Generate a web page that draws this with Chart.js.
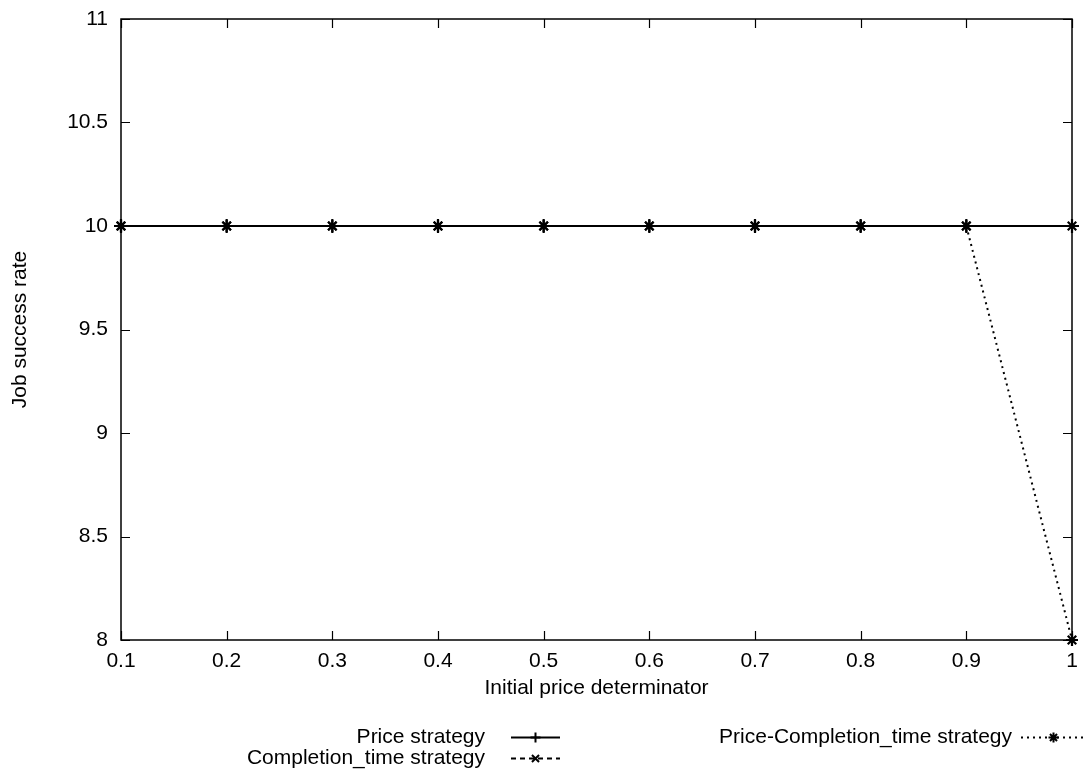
<!DOCTYPE html>
<html>
<head>
<meta charset="utf-8">
<script src="https://cdn.jsdelivr.net/npm/chart.js@4"></script>
<style>
  body { margin: 0; background: #fff; }
  canvas { display: block; }
</style>
</head>
<body>
<canvas id="chart" width="1088" height="769"></canvas>
<script>
// values
const xValues = [0.1, 0.2, 0.3, 0.4, 0.5, 0.6, 0.7, 0.8, 0.9, 1];
const priceStrategy = [10, 10, 10, 10, 10, 10, 10, 10, 10, 10];
const completionStrategy = [10, 10, 10, 10, 10, 10, 10, 10, 10, 10];
const priceCompletionStrategy = [10, 10, 10, 10, 10, 10, 10, 10, 10, 8];
const xTicks = [0.1, 0.2, 0.3, 0.4, 0.5, 0.6, 0.7, 0.8, 0.9, 1];
const yTicks = [8, 8.5, 9, 9.5, 10, 10.5, 11];

const FONT = '"Liberation Sans", Arial, sans-serif';
const FSIZE = 21;

function toPoints(ys) {
  return xValues.map((x, i) => ({ x: x, y: ys[i] }));
}

// gnuplot style frame, inward ticks, axis titles and legend
const gnuplotLook = {
  id: 'gnuplotLook',
  afterDraw(chart) {
    const ctx = chart.ctx;
    const a = chart.chartArea;
    const xs = chart.scales.x, ys = chart.scales.y;
    ctx.save();
    ctx.strokeStyle = '#000';
    ctx.lineWidth = 1.5;
    ctx.strokeRect(a.left, a.top, a.right - a.left, a.bottom - a.top);
    ctx.lineWidth = 1.2;
    ctx.beginPath();
    xTicks.forEach(v => {
      const px = Math.round(xs.getPixelForValue(v)) + 0.5;
      ctx.moveTo(px, a.bottom); ctx.lineTo(px, a.bottom - 9);
      ctx.moveTo(px, a.top); ctx.lineTo(px, a.top + 9);
    });
    yTicks.forEach(v => {
      const py = Math.round(ys.getPixelForValue(v)) + 0.5;
      ctx.moveTo(a.left, py); ctx.lineTo(a.left + 9, py);
      ctx.moveTo(a.right, py); ctx.lineTo(a.right - 9, py);
    });
    ctx.stroke();

    // axis titles
    ctx.fillStyle = '#000';
    ctx.font = FSIZE + 'px ' + FONT;
    ctx.textAlign = 'center';
    ctx.textBaseline = 'middle';
    ctx.fillText('Initial price determinator', (a.left + a.right) / 2, 688);
    ctx.save();
    ctx.translate(20, (a.top + a.bottom) / 2);
    ctx.rotate(-Math.PI / 2);
    ctx.fillText('Job success rate', 0, 0);
    ctx.restore();

    // legend
    const items = [
      { ds: 0, tx: 485, x0: 511, x1: 560, y: 737 },
      { ds: 1, tx: 485, x0: 511, x1: 560, y: 758 },
      { ds: 2, tx: 1012, x0: 1021, x1: 1086, y: 737 }
    ];
    items.forEach(it => {
      const d = chart.data.datasets[it.ds];
      ctx.textAlign = 'right';
      ctx.fillStyle = '#000';
      ctx.fillText(d.label, it.tx, it.y);
      ctx.beginPath();
      ctx.setLineDash(d.borderDash || []);
      ctx.lineWidth = d.borderWidth;
      ctx.moveTo(it.x0, it.y + 0.5);
      ctx.lineTo(it.x1, it.y + 0.5);
      ctx.stroke();
      ctx.setLineDash([]);
      Chart.helpers.drawPoint(ctx, {
        pointStyle: d.pointStyle, radius: 5, borderWidth: 2
      }, (it.x0 + it.x1) / 2, it.y + 0.5);
    });
    ctx.restore();
  }
};

const ctx = document.getElementById('chart').getContext('2d');
new Chart(ctx, {
  type: 'line',
  data: {
    datasets: [
      {
        label: 'Price strategy',
        data: toPoints(priceStrategy),
        borderColor: '#000', backgroundColor: '#000',
        borderWidth: 2, pointStyle: 'cross', pointRadius: 7, pointBorderWidth: 2.2
      },
      {
        label: 'Completion_time strategy',
        data: toPoints(completionStrategy),
        borderColor: '#000', backgroundColor: '#000',
        borderWidth: 2, borderDash: [5, 4],
        pointStyle: 'crossRot', pointRadius: 6, pointBorderWidth: 2.2
      },
      {
        label: 'Price-Completion_time strategy',
        data: toPoints(priceCompletionStrategy),
        borderColor: '#000', backgroundColor: '#000',
        borderWidth: 2, borderDash: [2, 4],
        pointStyle: 'star', pointRadius: 6, pointBorderWidth: 2.2
      }
    ]
  },
  options: {
    responsive: false,
    animation: false,
    clip: false,
    layout: { padding: { top: 19, right: 16, left: 0, bottom: 0 } },
    plugins: {
      legend: { display: false },
      tooltip: { enabled: false }
    },
    scales: {
      x: {
        type: 'linear',
        min: 0.1, max: 1,
        grid: { display: false, drawTicks: false },
        border: { display: false },
        afterBuildTicks: s => { s.ticks = xTicks.map(v => ({ value: v })); },
        afterFit: s => { s.height = 129; s.paddingLeft = 0; s.paddingRight = 0; },
        ticks: {
          color: '#000', padding: 9, maxRotation: 0,
          font: { family: FONT, size: FSIZE },
          callback: v => String(Math.round(v * 10) / 10)
        }
      },
      y: {
        min: 8, max: 11,
        grid: { display: false, drawTicks: false },
        border: { display: false },
        afterBuildTicks: s => { s.ticks = yTicks.map(v => ({ value: v })); },
        afterFit: s => { s.width = 121; s.paddingTop = 0; s.paddingBottom = 0; },
        ticks: {
          color: '#000', padding: 13,
          font: { family: FONT, size: FSIZE },
          callback: v => String(v)
        }
      }
    }
  },
  plugins: [gnuplotLook]
});
</script>
</body>
</html>
